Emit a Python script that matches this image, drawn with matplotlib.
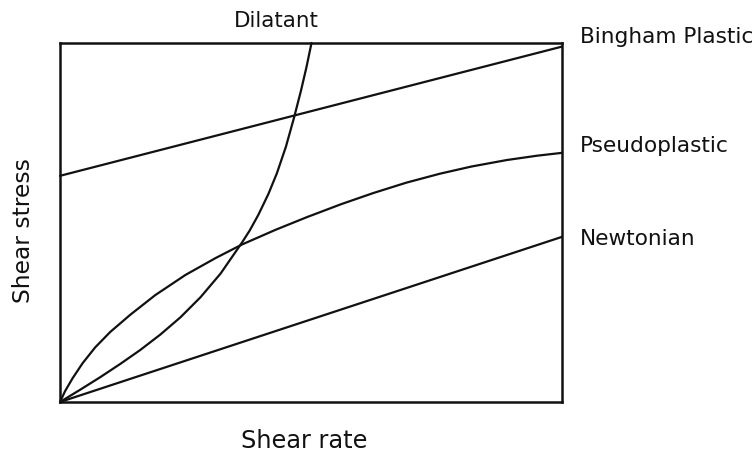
import matplotlib
matplotlib.use("Agg")
import matplotlib.pyplot as plt

# Data (shear rate fraction, shear stress fraction)
newtonian_x = [0.0, 1.0]
newtonian_y = [0.0, 0.46]

bingham_x = [0.0, 1.0]
bingham_y = [0.63, 0.99]

pseudo_x = [0.0, 0.01, 0.025, 0.045, 0.07, 0.1, 0.14, 0.19, 0.25, 0.31, 0.363,
            0.43, 0.492, 0.56, 0.624, 0.69, 0.757, 0.82, 0.89, 0.95, 1.0]
pseudo_y = [0.0, 0.03, 0.066, 0.108, 0.152, 0.195, 0.243, 0.298, 0.354, 0.401, 0.439,
            0.48, 0.515, 0.551, 0.582, 0.611, 0.636, 0.656, 0.674, 0.686, 0.694]

dilatant_x = [0.0, 0.04, 0.08, 0.12, 0.16, 0.2, 0.24, 0.28, 0.32, 0.362,
              0.378, 0.395, 0.415, 0.432, 0.45, 0.466, 0.48, 0.491, 0.501]
dilatant_y = [0.0, 0.034, 0.069, 0.106, 0.145, 0.188, 0.236, 0.292, 0.358, 0.443,
              0.478, 0.521, 0.579, 0.637, 0.711, 0.791, 0.867, 0.933, 1.0]

labels_right = ["Bingham Plastic", "Pseudoplastic", "Newtonian"]
label_right_y = [1.0, 0.696, 0.437]

plt.rcParams['font.family'] = ['DejaVu Sans']

fig = plt.figure(figsize=(7.55, 4.55), dpi=100)
ax = fig.add_axes([60/755, 53/455, 502/755, 359/455])

lw = 1.6
for xs, ys in [(newtonian_x, newtonian_y), (bingham_x, bingham_y),
               (pseudo_x, pseudo_y), (dilatant_x, dilatant_y)]:
    ax.plot(xs, ys, color='#111111', lw=lw, clip_on=False,
            solid_joinstyle='round', solid_capstyle='round')

ax.set_xlim(0, 1)
ax.set_ylim(0, 1)
ax.set_xticks([])
ax.set_yticks([])
for s in ax.spines.values():
    s.set_linewidth(1.8)
    s.set_color('#111111')

fs = 15.6
for lab, yy in zip(labels_right, label_right_y):
    ax.text(1.036, yy, lab, transform=ax.transAxes, ha='left', va='baseline',
            fontsize=fs, color='#111111', clip_on=False)

ax.text(0.43, 1.045, "Dilatant", transform=ax.transAxes, ha='center', va='baseline',
        fontsize=15.4, color='#111111')

ax.text(0.486, -0.128, "Shear rate", transform=ax.transAxes, ha='center', va='baseline',
        fontsize=17.3, color='#111111')
fig.text(24/755, 1 - 231/455, "Shear stress", rotation=90, ha='center', va='center',
         fontsize=16.8, color='#111111')

fig.savefig("out.png", dpi=100, facecolor='white')
